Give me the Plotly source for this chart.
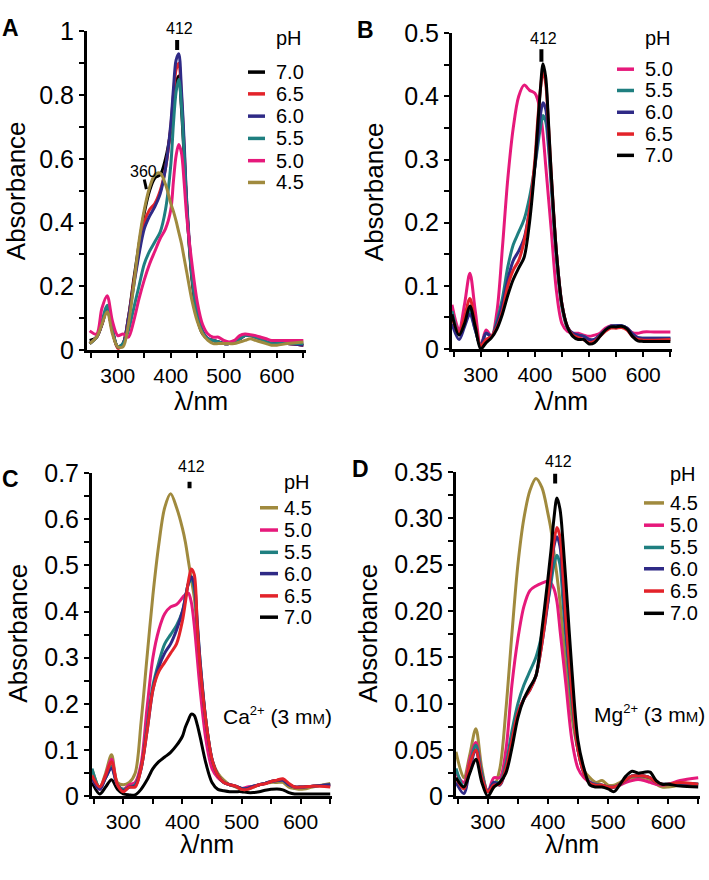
import plotly.graph_objects as go

# ---------------- data ----------------
WL = [247, 260, 270, 280, 290, 300, 310, 320, 330, 340, 350, 360, 370, 380, 390, 400,
      405, 410, 415, 420, 425, 430, 440, 450, 460, 470, 480, 490, 500, 510, 520, 530,
      540, 550, 560, 570, 580, 590, 600, 620, 650]

# Panel A (no metal)
A_PH = ["7.0", "6.5", "6.0", "5.5", "5.0", "4.5"]
A_70 = [0.03, 0.04, 0.08, 0.13, 0.06, 0.01, 0.02, 0.10, 0.22, 0.33, 0.43, 0.50, 0.54, 0.55, 0.60, 0.69,
        0.77, 0.84, 0.86, 0.76, 0.61, 0.45, 0.22, 0.10, 0.05, 0.035, 0.03, 0.025, 0.02, 0.02, 0.025, 0.035,
        0.045, 0.045, 0.04, 0.035, 0.025, 0.02, 0.02, 0.02, 0.015]
A_65 = [0.02, 0.04, 0.08, 0.13, 0.06, 0.005, 0.02, 0.10, 0.21, 0.31, 0.40, 0.44, 0.46, 0.50, 0.57, 0.70,
        0.80, 0.88, 0.90, 0.80, 0.64, 0.46, 0.23, 0.11, 0.055, 0.035, 0.03, 0.025, 0.02, 0.02, 0.025, 0.035,
        0.045, 0.045, 0.04, 0.035, 0.025, 0.02, 0.02, 0.02, 0.015]
A_60 = [0.02, 0.04, 0.08, 0.13, 0.06, 0.01, 0.02, 0.10, 0.20, 0.30, 0.38, 0.42, 0.45, 0.49, 0.57, 0.71,
        0.82, 0.91, 0.93, 0.82, 0.66, 0.47, 0.24, 0.12, 0.06, 0.035, 0.03, 0.025, 0.02, 0.02, 0.025, 0.035,
        0.045, 0.045, 0.04, 0.035, 0.025, 0.02, 0.02, 0.02, 0.015]
A_55 = [0.02, 0.04, 0.09, 0.14, 0.06, 0.01, 0.02, 0.06, 0.13, 0.20, 0.27, 0.31, 0.34, 0.37, 0.44, 0.58,
        0.71, 0.81, 0.85, 0.77, 0.62, 0.45, 0.23, 0.11, 0.055, 0.035, 0.03, 0.025, 0.02, 0.02, 0.025, 0.035,
        0.045, 0.045, 0.04, 0.035, 0.025, 0.02, 0.02, 0.02, 0.02]
A_50 = [0.06, 0.05, 0.13, 0.17, 0.09, 0.045, 0.05, 0.04, 0.09, 0.16, 0.22, 0.27, 0.31, 0.35, 0.38, 0.44,
        0.53, 0.61, 0.645, 0.62, 0.53, 0.42, 0.27, 0.15, 0.08, 0.05, 0.04, 0.04, 0.03, 0.025, 0.03, 0.045,
        0.05, 0.048, 0.045, 0.04, 0.035, 0.03, 0.03, 0.03, 0.03]
A_45 = [0.02, 0.04, 0.08, 0.12, 0.05, 0.01, 0.01, 0.08, 0.20, 0.34, 0.44, 0.51, 0.55, 0.555, 0.52, 0.46,
        0.435, 0.405, 0.37, 0.335, 0.29, 0.245, 0.155, 0.09, 0.05, 0.03, 0.02, 0.02, 0.02, 0.02, 0.02, 0.025,
        0.03, 0.035, 0.03, 0.025, 0.02, 0.015, 0.015, 0.02, 0.025]

# Panel B
B_PH = ["5.0", "5.5", "6.0", "6.5", "7.0"]
B_50 = [0.07, 0.03, 0.07, 0.12, 0.06, 0.005, 0.03, 0.02, 0.06, 0.16, 0.27, 0.35, 0.40, 0.418, 0.41, 0.405,
        0.395, 0.375, 0.34, 0.29, 0.24, 0.19, 0.09, 0.04, 0.028, 0.025, 0.025, 0.022, 0.02, 0.022, 0.025, 0.033,
        0.037, 0.036, 0.036, 0.033, 0.026, 0.025, 0.027, 0.027, 0.027]
B_55 = [0.06, 0.025, 0.04, 0.06, 0.03, 0.005, 0.025, 0.02, 0.045, 0.08, 0.13, 0.165, 0.185, 0.205, 0.24, 0.29,
        0.32, 0.35, 0.37, 0.36, 0.32, 0.26, 0.14, 0.065, 0.033, 0.025, 0.022, 0.02, 0.015, 0.015, 0.022, 0.03,
        0.036, 0.037, 0.037, 0.033, 0.024, 0.018, 0.017, 0.017, 0.017]
B_60 = [0.04, 0.015, 0.035, 0.055, 0.03, 0.005, 0.025, 0.02, 0.04, 0.07, 0.11, 0.14, 0.155, 0.175, 0.22, 0.29,
        0.33, 0.37, 0.39, 0.38, 0.33, 0.27, 0.15, 0.07, 0.035, 0.025, 0.022, 0.02, 0.015, 0.015, 0.022, 0.03,
        0.036, 0.037, 0.037, 0.033, 0.024, 0.018, 0.017, 0.017, 0.017]
B_65 = [0.05, 0.025, 0.05, 0.08, 0.04, 0.005, 0.015, 0.02, 0.035, 0.06, 0.10, 0.125, 0.14, 0.17, 0.22, 0.30,
        0.36, 0.41, 0.44, 0.42, 0.355, 0.28, 0.15, 0.07, 0.035, 0.022, 0.018, 0.015, 0.01, 0.012, 0.02, 0.028,
        0.033, 0.033, 0.034, 0.03, 0.02, 0.015, 0.014, 0.014, 0.015]
B_70 = [0.055, 0.022, 0.04, 0.068, 0.035, 0.0, 0.01, 0.018, 0.032, 0.055, 0.085, 0.11, 0.128, 0.145, 0.20, 0.29,
        0.35, 0.41, 0.452, 0.43, 0.36, 0.28, 0.15, 0.07, 0.035, 0.02, 0.015, 0.015, 0.008, 0.01, 0.02, 0.03,
        0.035, 0.035, 0.036, 0.032, 0.02, 0.013, 0.012, 0.012, 0.012]

# Panel C (Ca2+ 3 mM)
C_PH = ["4.5", "5.0", "5.5", "6.0", "6.5", "7.0"]
C_45 = [0.058, 0.02, 0.05, 0.09, 0.03, 0.025, 0.03, 0.05, 0.16, 0.30, 0.435, 0.545, 0.625, 0.655, 0.625, 0.58,
        0.55, 0.51, 0.47, 0.43, 0.36, 0.28, 0.16, 0.08, 0.05, 0.035, 0.025, 0.02, 0.015, 0.015, 0.02, 0.025,
        0.028, 0.03, 0.03, 0.03, 0.02, 0.017, 0.015, 0.02, 0.028]
C_50 = [0.04, 0.015, 0.045, 0.08, 0.025, 0.015, 0.025, 0.03, 0.07, 0.19, 0.30, 0.36, 0.395, 0.41, 0.415, 0.43,
        0.437, 0.44, 0.42, 0.37, 0.30, 0.23, 0.12, 0.06, 0.04, 0.03, 0.025, 0.022, 0.017, 0.02, 0.022, 0.025,
        0.028, 0.032, 0.034, 0.035, 0.025, 0.02, 0.02, 0.022, 0.025]
C_55 = [0.06, 0.02, 0.04, 0.065, 0.025, 0.015, 0.02, 0.025, 0.06, 0.15, 0.24, 0.29, 0.33, 0.35, 0.37, 0.40,
        0.43, 0.46, 0.47, 0.45, 0.37, 0.29, 0.16, 0.08, 0.045, 0.03, 0.025, 0.022, 0.017, 0.017, 0.022, 0.025,
        0.028, 0.032, 0.034, 0.035, 0.025, 0.02, 0.02, 0.022, 0.025]
C_60 = [0.04, 0.015, 0.04, 0.06, 0.025, 0.012, 0.02, 0.022, 0.06, 0.14, 0.23, 0.28, 0.31, 0.33, 0.36, 0.40,
        0.43, 0.46, 0.475, 0.46, 0.38, 0.29, 0.16, 0.08, 0.045, 0.03, 0.025, 0.022, 0.017, 0.017, 0.022, 0.025,
        0.028, 0.032, 0.034, 0.035, 0.025, 0.02, 0.02, 0.022, 0.025]
C_65 = [0.045, 0.02, 0.045, 0.075, 0.025, 0.01, 0.02, 0.02, 0.06, 0.14, 0.23, 0.27, 0.29, 0.31, 0.33, 0.38,
        0.42, 0.465, 0.492, 0.48, 0.37, 0.28, 0.16, 0.08, 0.045, 0.03, 0.025, 0.022, 0.015, 0.015, 0.02, 0.025,
        0.027, 0.032, 0.035, 0.038, 0.028, 0.02, 0.02, 0.022, 0.02]
C_70 = [0.03, 0.005, 0.02, 0.036, 0.015, 0.005, 0.003, 0.003, 0.015, 0.035, 0.06, 0.075, 0.085, 0.095, 0.11, 0.13,
        0.15, 0.165, 0.178, 0.175, 0.155, 0.128, 0.07, 0.03, 0.015, 0.012, 0.01, 0.01, 0.01, 0.008, 0.008, 0.01,
        0.013, 0.015, 0.016, 0.014, 0.008, 0.005, 0.005, 0.005, 0.005]

# Panel D (Mg2+ 3 mM)
D_PH = ["4.5", "5.0", "5.5", "6.0", "6.5", "7.0"]
D_45 = [0.048, 0.02, 0.045, 0.073, 0.03, 0.005, 0.01, 0.03, 0.093, 0.175, 0.25, 0.30, 0.33, 0.343, 0.333, 0.305,
        0.288, 0.263, 0.238, 0.21, 0.175, 0.14, 0.085, 0.05, 0.028, 0.02, 0.015, 0.017, 0.012, 0.012, 0.015, 0.018,
        0.02, 0.02, 0.02, 0.018, 0.013, 0.01, 0.01, 0.012, 0.013]
D_50 = [0.025, 0.015, 0.04, 0.058, 0.025, 0.005, 0.02, 0.02, 0.05, 0.12, 0.17, 0.205, 0.222, 0.227, 0.23, 0.232,
        0.23, 0.224, 0.21, 0.18, 0.15, 0.12, 0.06, 0.03, 0.02, 0.015, 0.013, 0.012, 0.01, 0.01, 0.012, 0.015,
        0.017, 0.018, 0.017, 0.015, 0.013, 0.012, 0.013, 0.017, 0.02]
D_55 = [0.03, 0.01, 0.035, 0.055, 0.025, 0.005, 0.015, 0.015, 0.035, 0.07, 0.10, 0.12, 0.135, 0.15, 0.175, 0.21,
        0.23, 0.25, 0.26, 0.25, 0.21, 0.17, 0.10, 0.05, 0.025, 0.015, 0.013, 0.012, 0.01, 0.01, 0.013, 0.018,
        0.022, 0.022, 0.022, 0.02, 0.015, 0.013, 0.013, 0.014, 0.013]
D_60 = [0.015, 0.003, 0.03, 0.05, 0.02, 0.005, 0.015, 0.012, 0.03, 0.06, 0.09, 0.105, 0.115, 0.13, 0.165, 0.21,
        0.24, 0.27, 0.28, 0.27, 0.23, 0.18, 0.11, 0.05, 0.025, 0.015, 0.012, 0.012, 0.01, 0.01, 0.013, 0.018,
        0.022, 0.022, 0.022, 0.02, 0.015, 0.013, 0.013, 0.014, 0.013]
D_65 = [0.02, 0.008, 0.035, 0.05, 0.02, 0.005, 0.012, 0.013, 0.03, 0.06, 0.09, 0.105, 0.115, 0.13, 0.165, 0.215,
        0.245, 0.275, 0.29, 0.28, 0.24, 0.19, 0.11, 0.05, 0.025, 0.014, 0.012, 0.012, 0.01, 0.01, 0.013, 0.018,
        0.022, 0.022, 0.022, 0.02, 0.015, 0.013, 0.013, 0.015, 0.013]
D_70 = [0.02, 0.01, 0.025, 0.04, 0.015, 0.0, 0.01, 0.015, 0.025, 0.052, 0.085, 0.105, 0.118, 0.13, 0.18, 0.235,
        0.265, 0.30, 0.322, 0.31, 0.275, 0.23, 0.135, 0.06, 0.03, 0.012, 0.01, 0.01, 0.008, 0.005, 0.013, 0.022,
        0.027, 0.025, 0.026, 0.026, 0.017, 0.013, 0.013, 0.011, 0.01]

D_YTICKS = [0, 0.05, 0.10, 0.15, 0.20, 0.25, 0.30, 0.35]
D_YTICKTEXT = ["0", "0.05", "0.10", "0.15", "0.20", "0.25", "0.30", "0.35"]

PEAK_NM = 412
SHOULDER_NM = 360

# ---------------- styles ----------------
COL = {"7.0": "#000000", "6.5": "#E3232A", "6.0": "#2F2A86", "5.5": "#1F7F80",
       "5.0": "#E6197B", "4.5": "#A08A3E"}
FONT = "Liberation Sans, Arial, sans-serif"
W, H = 709, 880


def fx(px):
    return px / W


def fy(py):
    return 1 - py / H


fig = go.Figure()

panels = [
    dict(k="", series=[("7.0", A_70), ("6.5", A_65), ("6.0", A_60), ("5.5", A_55), ("5.0", A_50), ("4.5", A_45)],
         xd=(87, 306), yd=(18, 347), xr=[242, 655], yr=[0, 1], ydt=0.2, ymin=0.1),
    dict(k="2", series=[("5.0", B_50), ("5.5", B_55), ("6.0", B_60), ("6.5", B_65), ("7.0", B_70)],
         xd=(452, 672), yd=(20, 346), xr=[247, 653], yr=[0, 0.5], ydt=0.1, ymin=0.05),
    dict(k="3", series=[("7.0", C_70), ("4.5", C_45), ("5.0", C_50), ("5.5", C_55), ("6.0", C_60), ("6.5", C_65)],
         xd=(92, 332), yd=(474, 808), xr=[247, 653], yr=[0, 0.7], ydt=0.1, ymin=0.05),
    dict(k="4", series=[("4.5", D_45), ("5.0", D_50), ("5.5", D_55), ("6.0", D_60), ("6.5", D_65), ("7.0", D_70)],
         xd=(456, 700), yd=(473, 808), xr=[247, 653], yr=[0, 0.35], ydt=0.05, ymin=0.025),
]

for p in panels:
    k = p["k"]
    for ph, vals in p["series"]:
        fig.add_trace(go.Scatter(
            x=WL, y=vals, mode="lines", name="pH " + ph,
            line=dict(color=COL[ph], width=3, shape="spline", smoothing=0.9),
            xaxis="x" + k, yaxis="y" + k, showlegend=False, hoverinfo="skip"))
    xa = dict(domain=[fx(p["xd"][0]), fx(p["xd"][1])], range=p["xr"], anchor="y" + k,
              showline=True, linecolor="black", linewidth=3, showgrid=False, zeroline=False,
              ticks="outside", ticklen=5, tickwidth=2, tickcolor="black",
              tick0=0, dtick=100, tickfont=dict(family=FONT, size=21, color="black"),
              minor=dict(ticks="outside", dtick=50, tick0=0, ticklen=5, tickwidth=2, tickcolor="black"))
    ya = dict(domain=[fy(p["yd"][1]), fy(p["yd"][0])], range=p["yr"], anchor="x" + k,
              showline=True, linecolor="black", linewidth=3, showgrid=False, zeroline=False,
              ticks="outside", ticklen=5, tickwidth=2, tickcolor="black",
              tick0=0, dtick=p["ydt"], tickfont=dict(family=FONT, size=25, color="black"),
              minor=dict(ticks="outside", dtick=p["ymin"], tick0=0, ticklen=5, tickwidth=2, tickcolor="black"))
    if k == "4":
        ya.update(tickmode="array", tickvals=D_YTICKS, ticktext=D_YTICKTEXT)
    fig.update_layout({"xaxis" + k: xa, "yaxis" + k: ya})

annotations = []
shapes = []

# panel letters
for letter, x, y in [("A", 10, 14), ("B", 365, 17), ("C", 10, 480), ("D", 360, 470)]:
    annotations.append(dict(text="<b>" + letter + "</b>", x=fx(x), y=fy(y), xref="paper", yref="paper",
                            showarrow=False, font=dict(family=FONT, size=23, color="black"),
                            xanchor="center", yanchor="middle"))

# axis titles
for x, y in [(16, 183), (374, 183), (18, 640), (368, 640)]:
    annotations.append(dict(text="Absorbance", x=fx(x), y=fy(y), xref="paper", yref="paper",
                            showarrow=False, textangle=-90, font=dict(family=FONT, size=26, color="black"),
                            xanchor="center", yanchor="middle"))
for x, y in [(201, 400), (561, 400), (207, 857), (572, 857)]:
    annotations.append(dict(text="λ/nm", x=fx(x), y=fy(y), xref="paper", yref="paper",
                            showarrow=False, font=dict(family=FONT, size=25, color="black"),
                            xanchor="center", yanchor="middle"))

# 412 peak markers (data coordinates)
marks = [("", 0.942, 0.973), ("2", 0.455, 0.475), ("3", 0.667, 0.681), ("4", 0.3375, 0.348)]
for k, y0, y1 in marks:
    shapes.append(dict(type="line", xref="x" + k, yref="y" + k, x0=PEAK_NM, x1=PEAK_NM, y0=y0, y1=y1,
                       line=dict(color="black", width=4)))
for k, xpx, ty in [("", 179, 15), ("2", 543, 25), ("3", 191, 467), ("4", 558, 462)]:
    annotations.append(dict(text=str(PEAK_NM), x=fx(xpx), y=fy(ty), xref="paper", yref="paper",
                            showarrow=False, font=dict(family=FONT, size=16, color="black"),
                            xanchor="center", yanchor="middle"))

# 360 shoulder marker in panel A
shapes.append(dict(type="line", xref="x", yref="y", x0=SHOULDER_NM - 10, x1=SHOULDER_NM - 6, y0=0.535, y1=0.505,
                   line=dict(color="black", width=3)))
annotations.append(dict(text=str(SHOULDER_NM), x=fx(143), y=fy(163), xref="paper", yref="paper",
                        showarrow=False, font=dict(family=FONT, size=16, color="black"),
                        xanchor="center", yanchor="middle"))

# metal labels
SUP = "<sup><span style='font-size:13px'>2+</span></sup>"
SMALLM = "<span style='font-size:15px'>M</span>"
annotations.append(dict(text="Ca" + SUP + " (3 m" + SMALLM + ")", x=fx(334), y=fy(725),
                        xref="paper", yref="paper", showarrow=False,
                        font=dict(family=FONT, size=21, color="black"), xanchor="right", yanchor="middle"))
annotations.append(dict(text="Mg" + SUP + " (3 m" + SMALLM + ")", x=fx(707), y=fy(722),
                        xref="paper", yref="paper", showarrow=False,
                        font=dict(family=FONT, size=21, color="black"), xanchor="right", yanchor="middle"))

# custom legends
legends = [
    (A_PH, 248, 265, 274, 25, [60, 82.5, 105.5, 128.5, 151.5, 174]),
    (B_PH, 617, 634, 643, 25, [57, 79, 101.5, 124, 146]),
    (C_PH, 260, 278, 282, 483, [510, 533, 556, 578, 601, 623]),
    (D_PH, 644, 664, 668, 475, [505, 528, 551, 573, 596, 619]),
]
for labels, l0, l1, tx, pht, rows in legends:
    annotations.append(dict(text="pH", x=fx(tx), y=fy(pht), xref="paper", yref="paper", showarrow=False,
                            font=dict(family=FONT, size=20, color="black"), xanchor="left", yanchor="middle"))
    for ph, ry in zip(labels, rows):
        shapes.append(dict(type="line", xref="paper", yref="paper", x0=fx(l0), x1=fx(l1), y0=fy(ry), y1=fy(ry),
                           line=dict(color=COL[ph], width=3.5)))
        annotations.append(dict(text=ph, x=fx(tx), y=fy(ry), xref="paper", yref="paper", showarrow=False,
                                font=dict(family=FONT, size=20, color="black"), xanchor="left", yanchor="middle"))

fig.update_layout(width=W, height=H, margin=dict(l=0, r=0, t=0, b=0),
                  paper_bgcolor="white", plot_bgcolor="white", showlegend=False,
                  annotations=annotations, shapes=shapes, font=dict(family=FONT, color="black"))

fig.write_html("out.html", config={"displayModeBar": False},
               post_script="document.body.style.margin='0';document.body.style.overflow='hidden';")
